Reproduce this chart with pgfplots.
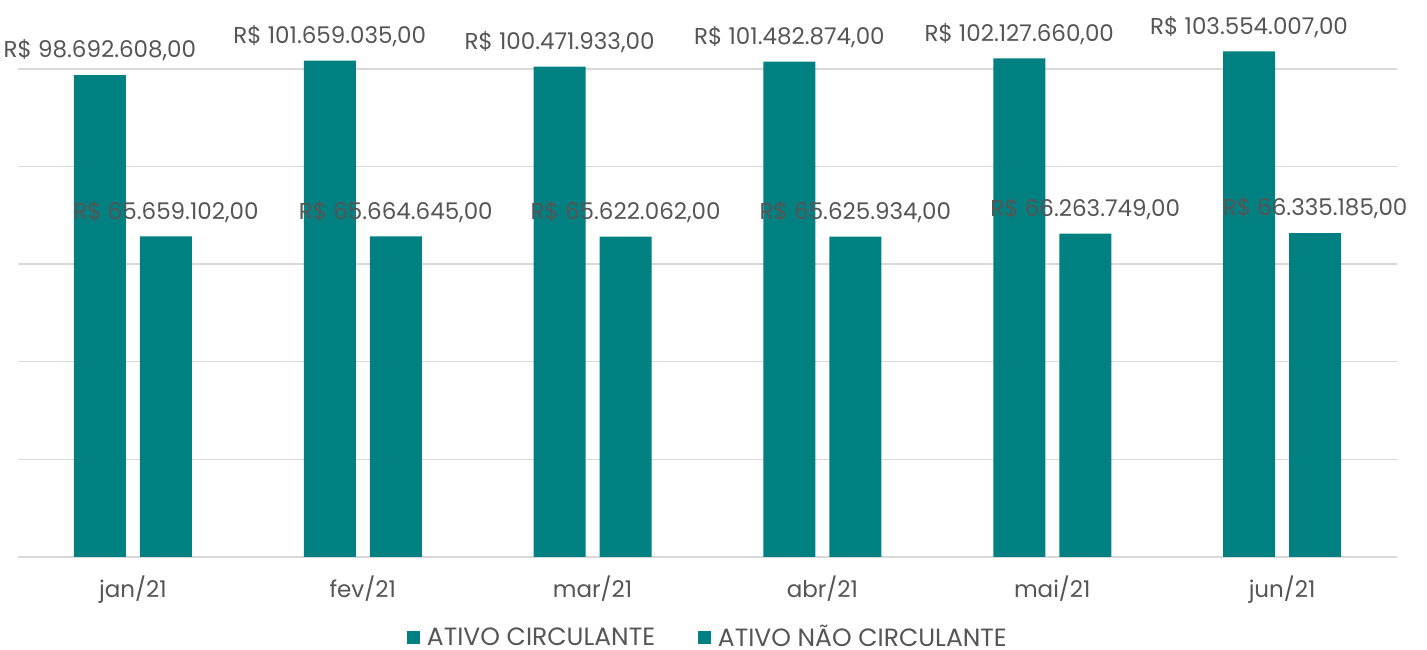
\documentclass[border=0pt]{standalone}
\usepackage{pgfplots}
\pgfplotsset{compat=1.18}
\usepackage{fontspec}
\setmainfont{Poppins}
\definecolor{teal1}{HTML}{008080}
\definecolor{txt}{HTML}{555555}
\definecolor{gridc}{HTML}{D9D9D9}
\begin{document}
\begin{tikzpicture}
\begin{axis}[
  name=ax,
  scale only axis,
  width=689.5pt, height=278.5pt,
  xmin=-0.5, xmax=5.5, ymin=0, ymax=114100000,
  ybar, bar width=26pt,
  axis x line*=bottom, axis y line*=left,
  y axis line style={draw=none},
  x axis line style={gridc, line width=0.7pt},
  ytick={0,20000000,40000000,60000000,80000000,100000000},
  yticklabels={}, y tick style={draw=none},
  ymajorgrids, major grid style={gridc, line width=0.7pt},
  xtick={0,1,2,3,4,5},
  xticklabels={jan/21,fev/21,mar/21,abr/21,mai/21,jun/21},
  x tick style={draw=none},
  extra x ticks={-0.5,0.5,1.5,2.5,3.5,4.5,5.5},
  extra x tick labels={},
  extra x tick style={tick align=outside, major tick length=3pt, tick style={gridc, line width=0.7pt}},
  xticklabel style={font=\fontsize{11.5}{13}\selectfont, text=txt, yshift=-1.5pt},
  tick label style={/pgf/number format/assume math mode=true},
  nodes near coords,
  point meta=explicit symbolic,
  every node near coord/.append style={font=\fontsize{11.5}{13}\selectfont, text=txt, anchor=south, yshift=3.5pt},
  legend style={at={(0.5,-0.145)}, anchor=center, legend columns=2, draw=none, fill=none,
    inner sep=0pt, nodes={inner sep=0.5pt},
    font=\fontsize{12.5}{14}\selectfont, text=txt,
    /tikz/every odd column/.append style={column sep=3pt},
    /tikz/every even column/.append style={column sep=21pt}},
  legend image code/.code={\fill[#1, draw=none] (0pt,-3.2pt) rectangle (6.4pt,3.2pt);},
]
\addplot[fill=teal1, draw=none, bar shift=-16.5pt] coordinates {
  (0,98692608) [R\$ 98.692.608,00]
  (1,101659035) [R\$ 101.659.035,00]
  (2,100471933) [R\$ 100.471.933,00]
  (3,101482874) [R\$ 101.482.874,00]
  (4,102127660) [R\$ 102.127.660,00]
  (5,103554007) [R\$ 103.554.007,00]
};
\addplot[fill=teal1, draw=none, bar shift=16.5pt] coordinates {
  (0,65659102) [R\$ 65.659.102,00]
  (1,65664645) [R\$ 65.664.645,00]
  (2,65622062) [R\$ 65.622.062,00]
  (3,65625934) [R\$ 65.625.934,00]
  (4,66263749) [R\$ 66.263.749,00]
  (5,66335185) [R\$ 66.335.185,00]
};
\legend{ATIVO CIRCULANTE, ATIVO NÃO CIRCULANTE}
\end{axis}
\pgfresetboundingbox
\path ([xshift=-9pt,yshift=-46.5pt]ax.south west) rectangle ([xshift=15pt]ax.north east);
\end{tikzpicture}
\end{document}
